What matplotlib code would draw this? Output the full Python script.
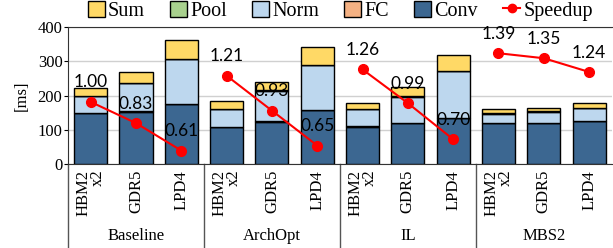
import matplotlib
matplotlib.use('Agg')
import matplotlib.pyplot as plt
from matplotlib.patches import Patch
from matplotlib.lines import Line2D
import numpy as np

# datos (ms)
groups = ['Baseline', 'ArchOpt', 'IL', 'MBS2']
mems = ['HBM2\nx2', 'GDR5', 'LPD4']
conv = [149, 153, 175, 109, 124, 158, 110, 120, 135, 120, 120, 126]
fc   = [1, 1, 1, 1, 1, 1, 1, 1, 1, 1, 1, 1]
norm = [48, 82, 130, 51, 90, 129, 49, 76, 136, 27, 31, 37]
pool = [1, 1, 1, 1, 1, 1, 1, 1, 1, 1, 3, 1]
sums = [23, 33, 55, 23, 24, 53, 17, 27, 46, 12, 9, 14]
speedup = [1.00, 0.83, 0.61, 1.21, 0.93, 0.65, 1.26, 0.99, 0.70, 1.39, 1.35, 1.24]

colores = {'Conv': '#3C6791', 'FC': '#F4B183', 'Norm': '#BDD7EE',
           'Pool': '#A9D18E', 'Sum': '#FFD966'}

serif = 'Liberation Serif'
plt.rcParams['font.family'] = serif

fig = plt.figure(figsize=(6.13, 2.48), dpi=100)
ax = fig.add_axes([0.111, 0.3375, 0.887, 0.5535])

x = np.arange(len(conv))
w = 0.73
bottom = np.zeros(len(conv))
for name, vals in [('Conv', conv), ('FC', fc), ('Norm', norm), ('Pool', pool), ('Sum', sums)]:
    ax.bar(x, vals, w, bottom=bottom, color=colores[name], edgecolor='black',
           linewidth=1, zorder=3)
    bottom += np.array(vals)

ax.set_xlim(-0.5, len(conv) - 0.5)
ax.set_ylim(0, 400)
ax.set_yticks([0, 100, 200, 300, 400])
ax.yaxis.grid(True, color='#d0d0d0', linewidth=1, zorder=0)
ax.set_axisbelow(True)
ax.tick_params(axis='y', labelsize=12, length=3, direction='out', pad=1)
ax.set_ylabel('[ms]', fontsize=12, labelpad=6)
ax.set_xticks(x)
ax.set_xticklabels(mems * len(groups), rotation=90, fontsize=12,
                   multialignment='right', linespacing=0.85)
ax.tick_params(axis='x', length=0, pad=4)
ax.spines['right'].set_visible(False)
for s in ['left', 'bottom', 'top']:
    ax.spines[s].set_color('#333333')

# separadores de grupo y etiquetas
trans = matplotlib.transforms.blended_transform_factory(ax.transData, ax.transAxes)
for b in [-0.5, 2.5, 5.5, 8.5]:
    ax.plot([b, b], [0, -0.62], transform=trans, color='#555555', lw=1, clip_on=False)
for i, g in enumerate(groups):
    ax.text(i * 3 + 1, -0.525, g, transform=trans, ha='center', va='center', fontsize=12)

# speedup en eje secundario
ax2 = ax.twinx()
ax2.set_ylim(0.5, 1.6)
ax2.axis('off')
for i in range(len(groups)):
    xs = x[i * 3:(i + 1) * 3]
    ys = speedup[i * 3:(i + 1) * 3]
    ax2.plot(xs, ys, color='red', marker='o', markersize=7, lw=1.5, zorder=5)
    for xi, yi in zip(xs, ys):
        ax2.annotate(f'{yi:.2f}', (xi, yi), xytext=(0, 14), textcoords='offset points',
                     ha='center', va='center', fontsize=12.5, family='Lato', zorder=6)

handles = [Patch(facecolor=colores[n], edgecolor='black', label=n)
           for n in ['Sum', 'Pool', 'Norm', 'FC', 'Conv']]
handles.append(Line2D([], [], color='red', marker='o', markersize=6, lw=1.5, label='Speedup'))
fig.legend(handles=handles, loc='upper center', bbox_to_anchor=(0.555, 1.07), ncol=6,
           frameon=False, fontsize=14.5, handlelength=0.85, handleheight=0.85,
           handletextpad=0.15, columnspacing=1.25)

fig.savefig('out.png', dpi=100)
